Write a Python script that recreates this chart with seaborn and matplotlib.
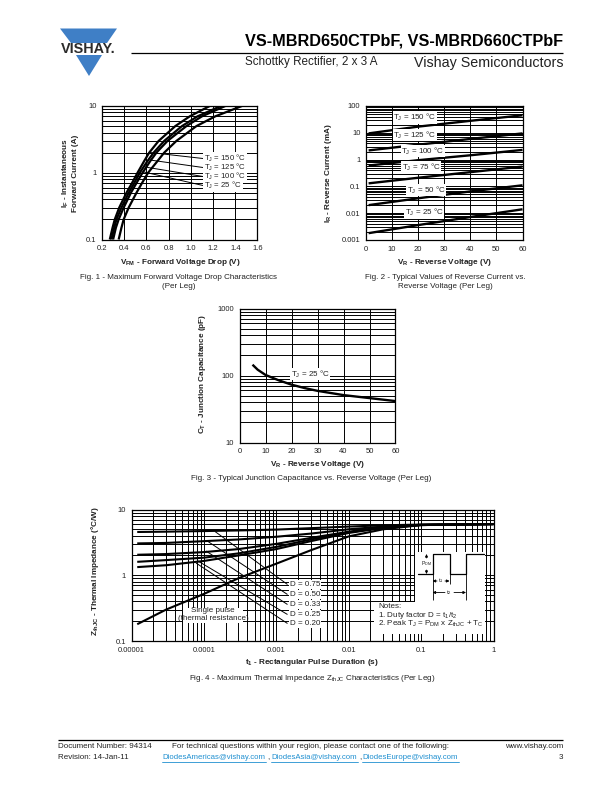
import matplotlib
matplotlib.use("Agg")
import matplotlib.pyplot as plt
import pandas as pd
import seaborn as sns

W, H = 612, 792
BLUE = "#3f7fc6"
LINK = "#1f8fd0"
SMALL = 5.8

# Fig. 1 forward voltage for each temperature, read at these currents
F1_CURRENT = [0.1, 0.15, 0.2, 0.3, 0.5, 0.7, 1, 1.5, 2, 3, 5, 7, 10]
F1_V_150 = [0.27, 0.295, 0.315, 0.355, 0.42, 0.47, 0.52, 0.58, 0.625, 0.71, 0.86, 0.99, 1.17]
F1_V_125 = [0.285, 0.31, 0.33, 0.375, 0.44, 0.49, 0.54, 0.61, 0.665, 0.76, 0.92, 1.06, 1.27]
F1_V_100 = [0.30, 0.325, 0.35, 0.395, 0.46, 0.51, 0.565, 0.635, 0.69, 0.79, 0.96, 1.10, 1.31]
F1_V_25 = [0.35, 0.375, 0.395, 0.44, 0.51, 0.56, 0.615, 0.70, 0.76, 0.87, 1.05, 1.22, 1.46]
F1_LABELS = ["150", "125", "100", "25"]

# Fig. 2 reverse current
F2_VOLT = [1, 20, 40, 60]
F2_150 = [9.5, 17, 28, 45]
F2_125 = [2.2, 3.6, 5.9, 9.5]
F2_100 = [0.6, 0.95, 1.45, 2.3]
F2_75 = [0.13, 0.21, 0.34, 0.55]
F2_50 = [0.02, 0.036, 0.065, 0.11]
F2_25 = [0.0018, 0.0036, 0.0072, 0.014]

# Fig. 3 capacitance
F3_VOLT = [5, 7, 10, 15, 20, 25, 30, 40, 50, 60]
F3_CAP = [145, 122, 102, 85, 73, 65, 59, 51, 46, 41.5]

# Fig. 4 thermal impedance
F4_T = [1.2e-5, 3e-5, 1e-4, 3e-4, 1e-3, 3e-3, 0.01, 0.03, 0.1, 1]
F4_SINGLE = [0.18, 0.30, 0.52, 0.9, 1.5, 2.4, 3.9, 5.0, 5.8, 6.0]
F4_D75 = [4.55, 4.6, 4.7, 4.8, 4.95, 5.2, 5.5, 5.75, 5.9, 6.0]
F4_D50 = [3.05, 3.1, 3.3, 3.5, 3.85, 4.3, 5.0, 5.5, 5.85, 6.0]
F4_D33 = [2.05, 2.1, 2.25, 2.5, 3.0, 3.7, 4.6, 5.4, 5.85, 6.0]
F4_D25 = [1.6, 1.7, 1.85, 2.15, 2.7, 3.5, 4.5, 5.3, 5.8, 6.0]
F4_D20 = [1.33, 1.42, 1.65, 2.0, 2.5, 3.3, 4.4, 5.25, 5.8, 6.0]

sns.set_theme(style="white")
plt.rcParams["font.family"] = ["Liberation Sans", "DejaVu Sans"]
plt.rcParams["mathtext.default"] = "regular"


def make_axes(left, top, right, bottom):
    ax = fig.add_axes([left / W, 1 - bottom / H, (right - left) / W, (bottom - top) / H])
    ax.grid(True, which="both", color="black", lw=0.7)
    ax.set_axisbelow(True)
    for s in ax.spines.values():
        s.set_color("black")
        s.set_linewidth(0.9)
    ax.tick_params(which="both", length=0, labelsize=5.5, colors="#222222", pad=4)
    return ax


def draw_lines(ax, x, y, group, lw):
    # several curves in long form, all black
    df = pd.DataFrame({"x": x, "y": y, "group": group})
    sns.lineplot(data=df, x="x", y="y", units="group", estimator=None, sort=False,
                 color="black", lw=lw, ax=ax, legend=False, solid_capstyle="butt", solid_joinstyle="round")


def set_labels(ax, box, xlabel, ylabel, xpos, ypos):
    # label centres are given in page pixels
    left, top, right, bottom = box
    ax.set_xlabel(xlabel, fontsize=5.9, fontweight="bold", color="#222222")
    ax.set_ylabel(ylabel, fontsize=5.9, fontweight="bold", color="#222222", va="center", ha="center", linespacing=1.1)
    ax.xaxis.set_label_coords((xpos[0] - left) / (right - left), (bottom - xpos[1]) / (bottom - top))
    ax.xaxis.label.set_va("center")
    ax.yaxis.set_label_coords((ypos[0] - left) / (right - left), (bottom - ypos[1]) / (bottom - top))


def page_text(x, y, s, size=SMALL, ha="center", color="#222222", weight="normal", box=False, **kw):
    bbox = dict(fc="white", ec="none", pad=0.6) if box else None
    return page.text(x, y, s, fontsize=size, ha=ha, va="center", color=color, fontweight=weight, bbox=bbox, **kw)


def leader(x0, y0, x1, y1, lw=0.7):
    page.plot([x0, x1], [y0, y1], color="black", lw=lw, solid_capstyle="butt")


def arrow(x0, y0, x1, y1):
    page.annotate("", xy=(x1, y1), xytext=(x0, y0),
                  arrowprops=dict(arrowstyle="-|>", color="black", lw=0.6, mutation_scale=4, shrinkA=0, shrinkB=0))


fig = plt.figure(figsize=(W / 100, H / 100), dpi=100, facecolor="white")

# Fig. 1
box1 = (102, 106, 257.5, 239.5)
ax1 = make_axes(*box1)
ax1.set_yscale("log")
x1, y1, g1 = [], [], []
for name, volts in zip(F1_LABELS, [F1_V_150, F1_V_125, F1_V_100, F1_V_25]):
    x1 += volts
    y1 += F1_CURRENT
    g1 += [name] * len(volts)
draw_lines(ax1, x1, y1, g1, 1.6)
ax1.set_xlim(0.2, 1.6)
ax1.set_ylim(0.1, 10)
ax1.set_xticks([0.2, 0.4, 0.6, 0.8, 1.0, 1.2, 1.4, 1.6])
ax1.set_xticklabels(["0.2", "0.4", "0.6", "0.8", "1.0", "1.2", "1.4", "1.6"])
ax1.set_yticks([0.1, 1, 10])
ax1.set_yticklabels(["0.1", "1", "10"])
set_labels(ax1, box1, r"V$_{FM}$ - Forward Voltage Drop (V)",
           "I$_F$ - Instantaneous\nForward Current (A)", (180, 262), (70, 173))

# Fig. 2
box2 = (366, 106, 522.5, 240)
ax2 = make_axes(*box2)
ax2.set_yscale("log")
x2, y2, g2 = [], [], []
for name, vals in zip(["150", "125", "100", "75", "50", "25"], [F2_150, F2_125, F2_100, F2_75, F2_50, F2_25]):
    x2 += F2_VOLT
    y2 += vals
    g2 += [name] * len(vals)
draw_lines(ax2, x2, y2, g2, 1.7)
ax2.set_xlim(0, 60)
ax2.set_ylim(0.001, 100)
ax2.set_xticks(range(0, 61, 10))
ax2.set_yticks([0.001, 0.01, 0.1, 1, 10, 100])
ax2.set_yticklabels(["0.001", "0.01", "0.1", "1", "10", "100"])
set_labels(ax2, box2, r"V$_R$ - Reverse Voltage (V)", "I$_R$ - Reverse Current (mA)", (445, 262), (329, 173))

# Fig. 3
box3 = (239.5, 308.5, 395.5, 442.5)
ax3 = make_axes(*box3)
ax3.set_yscale("log")
draw_lines(ax3, F3_VOLT, F3_CAP, ["25"] * len(F3_VOLT), 1.7)
ax3.set_xlim(0, 60)
ax3.set_ylim(10, 1000)
ax3.set_xticks(range(0, 61, 10))
ax3.set_yticks([10, 100, 1000])
ax3.set_yticklabels(["10", "100", "1000"])
set_labels(ax3, box3, r"V$_R$ - Reverse Voltage (V)", "C$_T$ - Junction Capacitance (pF)", (318, 464), (203, 374))

# Fig. 4
box4 = (131.5, 509.5, 493.5, 641)
ax4 = make_axes(*box4)
ax4.set_xscale("log")
ax4.set_yscale("log")
x4, y4, g4 = [], [], []
for name, vals in zip(["s", "75", "50", "33", "25", "20"], [F4_SINGLE, F4_D75, F4_D50, F4_D33, F4_D25, F4_D20]):
    x4 += F4_T
    y4 += vals
    g4 += [name] * len(vals)
draw_lines(ax4, x4, y4, g4, 1.5)
ax4.set_xlim(1e-5, 1)
ax4.set_ylim(0.1, 10)
ax4.set_xticks([1e-5, 1e-4, 1e-3, 1e-2, 0.1, 1])
ax4.set_xticklabels(["0.00001", "0.0001", "0.001", "0.01", "0.1", "1"])
ax4.set_yticks([0.1, 1, 10])
ax4.set_yticklabels(["0.1", "1", "10"])
set_labels(ax4, box4, r"t$_1$ - Rectangular Pulse Duration (s)", r"Z$_{thJC}$ - Thermal Impedance (°C/W)",
           (312, 663), (95, 571))

# page layer, in pixel coordinates
page = fig.add_axes([0, 0, 1, 1], zorder=10)
page.set_xlim(0, W)
page.set_ylim(H, 0)
page.axis("off")
page.patch.set_alpha(0)

# header
page.fill([60, 117, 107, 71], [28.5, 28.5, 43, 43], color=BLUE, lw=0)
page.fill([76, 102, 89], [55, 55, 76], color=BLUE, lw=0)
page_text(88.5, 49, "VISHAY.", size=10.4, weight="bold", color="#2b2b2b")
page_text(563, 40.5, "VS-MBRD650CTPbF, VS-MBRD660CTPbF", size=11.7, ha="right", weight="bold", color="black")
leader(131, 53, 563, 53, lw=0.9)
page_text(245, 61.5, "Schottky Rectifier, 2 x 3 A", size=8.4, ha="left")
page_text(563, 62.5, "Vishay Semiconductors", size=10.3, ha="right")

# fig 1 notes
for (x0, y0, y1_), t in zip([(150, 152.5, 158.5), (150, 160, 167.5), (145, 167, 176.5), (144, 172, 185.5)],
                            ["150", "125", "100", "25"]):
    leader(x0, y0, 203, y1_)
    page_text(204, y1_, f"T$_J$ = {t} °C", size=5.6, ha="left", box=True)
page_text(179, 277.5, "Fig. 1 - Maximum Forward Voltage Drop Characteristics")
page_text(179, 287, "(Per Leg)")

# fig 2 notes
for x, y, t in [(415, 117.5, "150"), (415, 135, "125"), (423, 151, "100"), (421, 167.5, "75"), (426, 190, "50"), (424, 212.5, "25")]:
    page_text(x, y, f"T$_J$ = {t} °C", box=True)
page_text(445, 277.5, "Fig. 2 - Typical Values of Reverse Current vs.")
page_text(445, 287, "Reverse Voltage (Per Leg)")

# fig 3 notes
page_text(310, 374, "T$_J$ = 25 °C", box=True)
page_text(311, 478, "Fig. 3 - Typical Junction Capacitance vs. Reverse Voltage (Per Leg)")

# fig 4 notes
for (x0, y0), y, t in zip([(215, 531.5), (208, 541.5), (206, 551), (198, 561), (196, 563)],
                          [584.5, 594.5, 604.5, 614.5, 623.5],
                          ["0.75", "0.50", "0.33", "0.25", "0.20"]):
    leader(x0, y0, 287.5, y)
    page_text(290, y, f"D = {t}", ha="left", box=True)
page.fill([183, 243, 243, 183], [607.5, 607.5, 622.5, 622.5], color="white", lw=0)
page_text(213, 611, "Single pulse")
page_text(213, 618.5, "(thermal resistance)")
page.fill([374, 485, 485, 374], [602, 602, 634, 634], color="white", lw=0)
page.fill([415, 485, 485, 415], [552, 552, 602, 602], color="white", lw=0)
page_text(378, 607, "Notes:", ha="left")
page_text(378, 615.5, "1. Duty factor D = t$_1$/t$_2$", ha="left")
page_text(378, 624, "2. Peak T$_J$ = P$_{DM}$ x Z$_{thJC}$ + T$_C$", ha="left")
# pulse sketch
page.plot([418, 432.5, 432.5, 449.5, 449.5, 466, 466, 484], [574, 574, 554, 554, 574, 574, 554, 554],
          color="black", lw=0.9)
leader(432.5, 574, 432.5, 600, lw=0.6)
leader(449.5, 574, 449.5, 584, lw=0.6)
leader(466, 574, 466, 600, lw=0.6)
arrow(426.5, 558, 426.5, 554)
arrow(426.5, 570, 426.5, 574)
page_text(426.5, 563.5, "P$_{DM}$", size=3.8)
arrow(437, 581, 432.5, 581)
arrow(445, 581, 449.5, 581)
page_text(441, 581, "t$_1$", size=4.2)
arrow(445, 592.5, 432.5, 592.5)
arrow(454, 592.5, 466, 592.5)
page_text(449, 592.5, "t$_2$", size=4.2)
page_text(312, 678, r"Fig. 4 - Maximum Thermal Impedance Z$_{thJC}$ Characteristics (Per Leg)")

# footer
leader(58, 739.5, 563, 739.5, lw=0.9)
page_text(58, 747, "Document Number: 94314", ha="left")
page_text(58, 757.5, "Revision: 14-Jan-11", ha="left")
page_text(311, 747, "For technical questions within your region, please contact one of the following:")
page_text(563, 747, "www.vishay.com", ha="right")
page_text(563, 757.5, "3", ha="right")
for x0, x1_, s in [(162, 266, "DiodesAmericas@vishay.com"), (271, 358, "DiodesAsia@vishay.com"), (362, 459, "DiodesEurope@vishay.com")]:
    page_text(x0, 757.5, s, size=5.55, ha="left", color=LINK)
    page.plot([x0, x1_], [761.5, 761.5], color=LINK, lw=0.6)
page_text(268, 758, ",", size=5.55)
page_text(360, 758, ",", size=5.55)

page.set_xlim(0, W)
page.set_ylim(H, 0)
fig.savefig("out.png", dpi=100)
